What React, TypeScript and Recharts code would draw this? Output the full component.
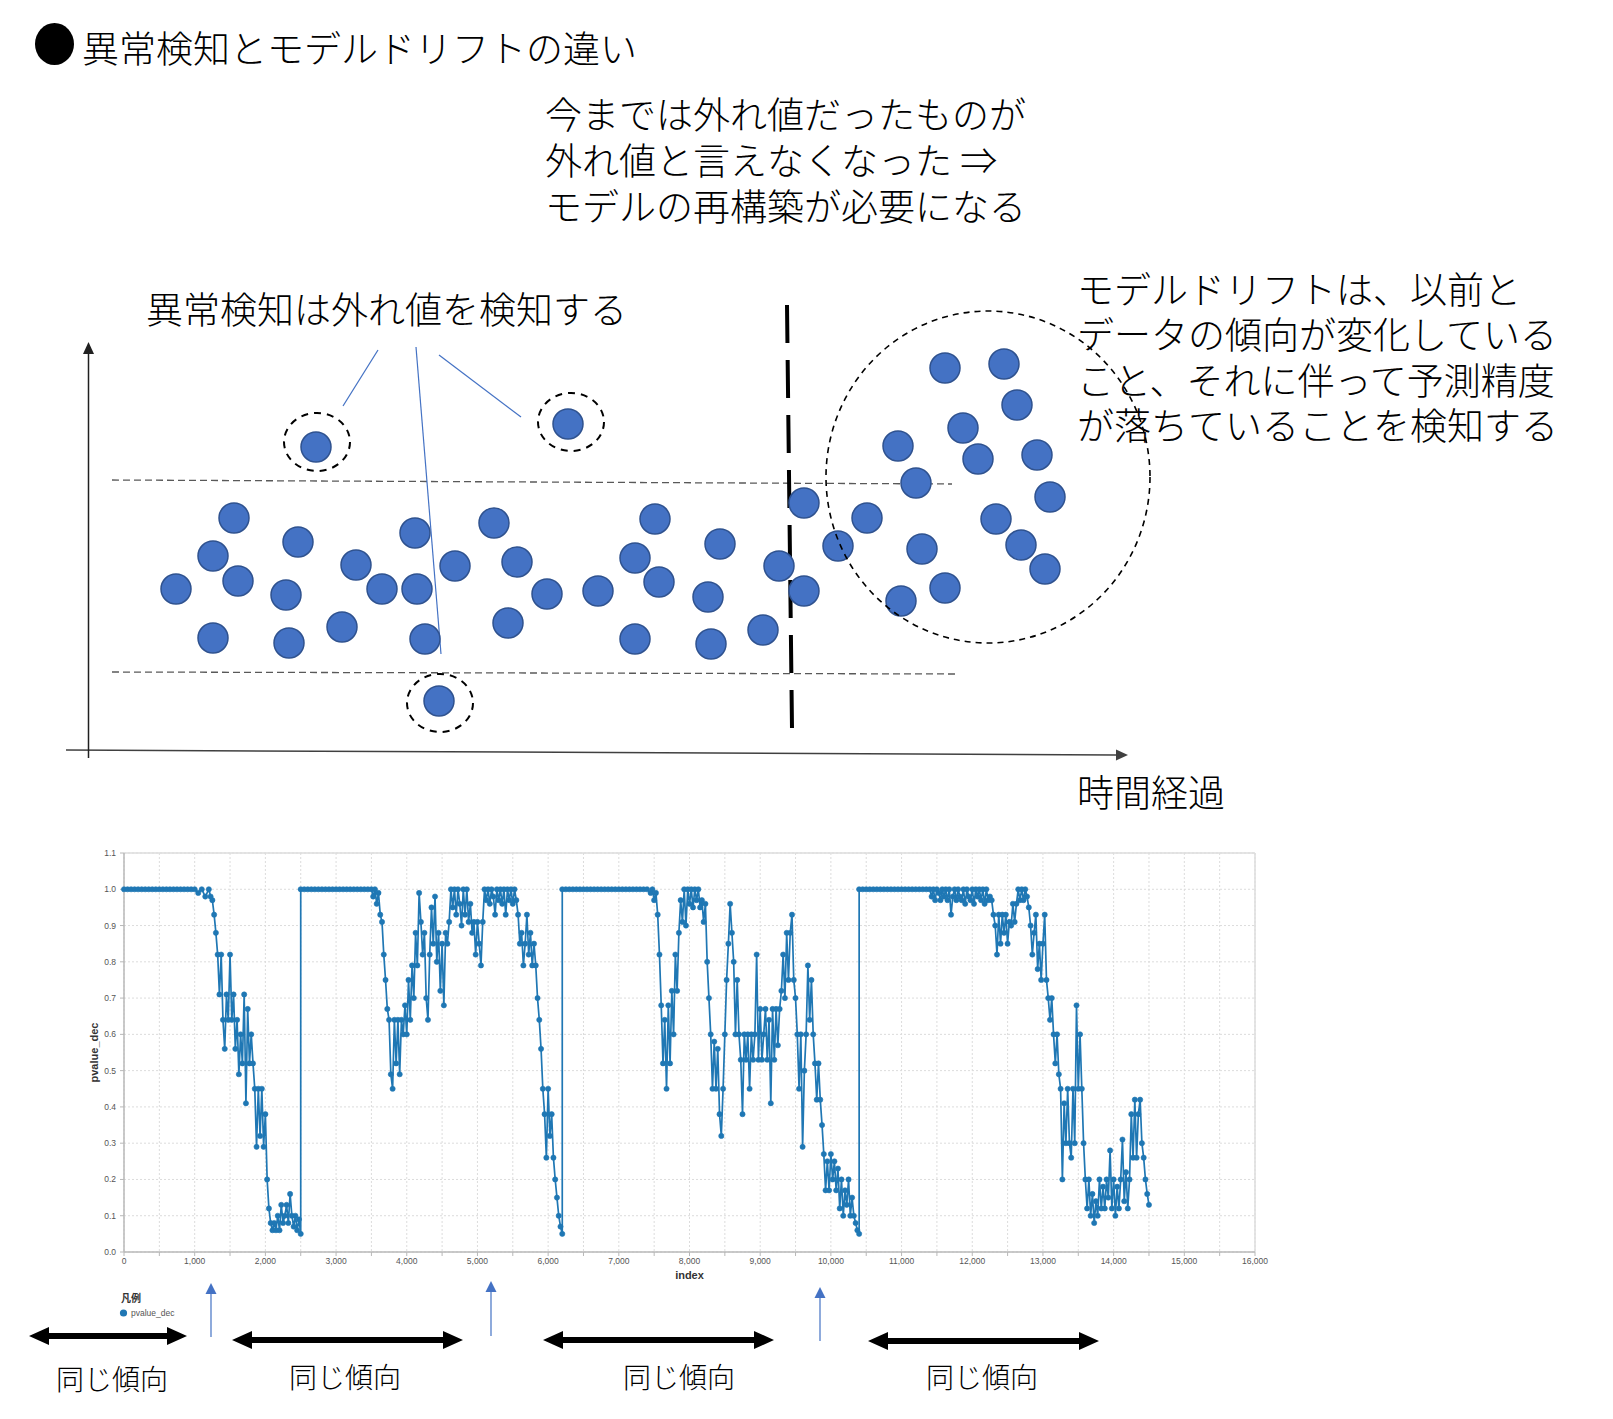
import React from 'react';
import {
  ScatterChart,
  Scatter,
  LineChart,
  Line,
  XAxis,
  YAxis,
  CartesianGrid,
  ReferenceLine,
} from 'recharts';

const JP = "'Noto Sans CJK JP', 'Noto Sans', sans-serif";
const LAT = "'Liberation Sans', Arial, sans-serif";
const BLUE = '#4472C4';

// ---------- concept diagram (units: 1 = 10px, origin at the axes corner) ----------
const steadyDots = [
  { x: 8.8, y: 16.6 }, { x: 12.5, y: 19.9 }, { x: 14.6, y: 23.7 }, { x: 15.0, y: 17.4 },
  { x: 12.5, y: 11.7 }, { x: 19.8, y: 16.0 }, { x: 21.0, y: 21.3 }, { x: 20.1, y: 11.2 },
  { x: 25.4, y: 12.8 }, { x: 26.8, y: 19.0 }, { x: 29.4, y: 16.6 }, { x: 32.7, y: 22.2 },
  { x: 32.9, y: 16.6 }, { x: 33.7, y: 11.6 }, { x: 36.7, y: 18.9 }, { x: 40.6, y: 23.2 },
  { x: 42.9, y: 19.3 }, { x: 42.0, y: 13.2 }, { x: 45.9, y: 16.1 }, { x: 51.0, y: 16.4 },
  { x: 54.7, y: 19.7 }, { x: 56.7, y: 23.6 }, { x: 57.1, y: 17.3 }, { x: 54.7, y: 11.6 },
  { x: 62.0, y: 15.8 }, { x: 63.2, y: 21.1 }, { x: 62.3, y: 11.1 }, { x: 67.5, y: 12.5 },
  { x: 69.1, y: 18.9 }, { x: 71.6, y: 25.2 }, { x: 71.6, y: 16.4 }, { x: 75.0, y: 20.9 },
];
const driftDots = [
  { x: 77.9, y: 23.7 }, { x: 81.3, y: 15.4 }, { x: 82.8, y: 27.2 }, { x: 83.4, y: 20.6 },
  { x: 85.7, y: 16.7 }, { x: 81.0, y: 30.9 }, { x: 85.7, y: 38.7 }, { x: 91.6, y: 39.1 },
  { x: 92.9, y: 35.0 }, { x: 87.5, y: 32.7 }, { x: 89.0, y: 29.6 }, { x: 94.9, y: 30.0 },
  { x: 96.2, y: 25.8 }, { x: 90.8, y: 23.6 }, { x: 93.3, y: 21.0 }, { x: 95.7, y: 18.6 },
];
const outlierDots = [{ x: 22.8, y: 30.8 }, { x: 48.0, y: 33.1 }, { x: 35.1, y: 5.4 }];
const outlierRings = [{ x: 22.9, y: 31.3 }, { x: 48.3, y: 33.3 }, { x: 35.2, y: 5.2 }];
const driftRing = [{ x: 90.0, y: 27.8 }];

const timeAxis = [{ x: -2.2, y: 0.5 }, { x: 104.0, y: 0.0 }];
const valueAxis = [{ x: 0.05, y: -0.3 }, { x: 0.05, y: 41.3 }];
const upperBand = [{ x: 2.4, y: 27.5 }, { x: 86.4, y: 27.1 }];
const lowerBand = [{ x: 2.4, y: 8.3 }, { x: 86.7, y: 8.1 }];
const driftBorder = [{ x: 69.9, y: 45.0 }, { x: 70.4, y: 2.7 }];
const pointers = [
  [{ x: 29.0, y: 40.5 }, { x: 25.5, y: 34.9 }],
  [{ x: 32.8, y: 40.8 }, { x: 35.3, y: 10.1 }],
  [{ x: 35.1, y: 40.0 }, { x: 43.3, y: 33.8 }],
];

// ---------- pvalue_dec series ----------
// plateaus sampled every 50 index steps, the moving parts every 25
const plateau1 = [
  1, 1, 1, 1, 1, 1, 1, 1, 1, 1, 1, 1, 1, 1, 1, 1, 1, 1, 1, 1,
  1, 0.99, 1, 0.98,
];
const drift1 = [
  1.0, 0.98, 0.97, 0.93, 0.88, 0.82, 0.71, 0.82, 0.64, 0.56, 0.71, 0.64, 0.82, 0.64, 0.71, 0.56, 0.64, 0.49, 0.6, 0.52,
  0.71, 0.41, 0.67, 0.52, 0.6, 0.52, 0.45, 0.29, 0.45, 0.32, 0.45, 0.29, 0.38, 0.2, 0.12, 0.08, 0.06, 0.08, 0.06, 0.1,
  0.06, 0.13, 0.08, 0.1, 0.13, 0.08, 0.16, 0.1, 0.07, 0.1, 0.06, 0.09, 0.05,
];
const plateau2 = [1, 1, 1, 1, 1, 1, 1, 1, 1, 1, 1, 1, 1, 1, 1, 1, 1, 1, 1, 1];
const drift2 = [
  1.0, 0.98, 1.0, 0.96, 0.99, 0.93, 0.91, 0.82, 0.75, 0.67, 0.64, 0.49, 0.45, 0.64, 0.52, 0.64, 0.49, 0.64, 0.6, 0.68,
  0.6, 0.75, 0.64, 0.79, 0.7, 0.88, 0.79, 0.99, 0.91, 0.82, 0.88, 0.7, 0.64, 0.82, 0.95, 0.85, 0.98, 0.8, 0.88, 0.72,
  0.85, 0.68, 0.88, 0.85, 0.91, 1.0, 0.95, 1.0, 0.93, 1.0, 0.96, 0.9, 1.0, 0.93, 1.0, 0.91, 0.96, 0.88, 0.91, 0.82,
  0.91, 0.85, 0.79, 0.91, 1.0, 0.97, 1.0, 0.96, 1.0, 0.98, 0.93, 1.0, 0.97, 1.0, 0.96, 1.0, 0.93, 1.0, 0.97, 1.0,
  0.96, 1.0, 0.97, 0.93, 0.85, 0.88, 0.79, 0.85, 0.93, 0.82, 0.88, 0.79, 0.85, 0.79, 0.7, 0.64, 0.56, 0.45, 0.38, 0.26,
  0.45, 0.32, 0.38, 0.26, 0.2, 0.15, 0.1, 0.07, 0.05,
];
const plateau3 = [
  1, 1, 1, 1, 1, 1, 1, 1, 1, 1, 1, 1, 1, 1, 1, 1, 1, 1, 1, 1,
  1, 1, 1, 1, 1,
];
const drift3 = [
  0.99, 1.0, 0.97, 0.99, 0.93, 0.82, 0.68, 0.52, 0.64, 0.45, 0.68, 0.52, 0.72, 0.6, 0.82, 0.72, 0.88, 0.97, 0.91, 1.0,
  0.9, 1.0, 0.96, 1.0, 0.95, 1.0, 0.97, 1.0, 0.95, 0.97, 0.91, 0.96, 0.8, 0.7, 0.6, 0.45, 0.58, 0.45, 0.56, 0.38,
  0.32, 0.45, 0.6, 0.75, 0.85, 0.96, 0.88, 0.8, 0.6, 0.75, 0.6, 0.53, 0.38, 0.6, 0.53, 0.6, 0.45, 0.6, 0.53, 0.6,
  0.82, 0.53, 0.67, 0.53, 0.6, 0.67, 0.53, 0.64, 0.41, 0.67, 0.53, 0.67, 0.57, 0.67, 0.72, 0.82, 0.7, 0.88, 0.75, 0.88,
  0.93, 0.75, 0.7, 0.6, 0.45, 0.6, 0.29, 0.5, 0.6, 0.79, 0.64, 0.75, 0.6, 0.52, 0.42, 0.52, 0.42, 0.35, 0.27, 0.17,
  0.25, 0.17, 0.27, 0.2, 0.25, 0.17, 0.23, 0.12, 0.2, 0.1, 0.17, 0.13, 0.2, 0.1, 0.15, 0.1, 0.08, 0.06, 0.05,
];
const plateau4 = [1, 1, 1, 1, 1, 1, 1, 1, 1, 1, 1, 1, 1, 1, 1, 1, 1, 1, 1, 1];
const drift4 = [
  1.0, 0.98, 1.0, 0.97, 1.0, 0.99, 0.97, 1.0, 0.98, 1.0, 0.97, 1.0, 0.93, 0.98, 1.0, 0.97, 1.0, 0.98, 0.97, 1.0,
  0.96, 1.0, 0.98, 0.97, 1.0, 0.96, 1.0, 0.98, 1.0, 0.97, 1.0, 0.96, 1.0, 0.97, 0.98, 0.97, 0.93, 0.9, 0.82, 0.93,
  0.85, 0.93, 0.88, 0.93, 0.85, 0.91, 0.9, 0.96, 0.91, 0.96, 1.0, 0.97, 1.0, 0.97, 1.0, 0.98, 0.95, 0.9, 0.82, 0.88,
  0.93, 0.78, 0.85, 0.75, 0.85, 0.93, 0.75, 0.7, 0.64, 0.7, 0.6, 0.52, 0.6, 0.49, 0.45, 0.2, 0.41, 0.3, 0.45, 0.3,
  0.26, 0.45, 0.3, 0.68, 0.45, 0.6, 0.45, 0.3, 0.2, 0.12, 0.2, 0.1, 0.16, 0.08, 0.14, 0.1, 0.2, 0.12, 0.18, 0.12,
  0.2, 0.15, 0.28, 0.12, 0.2, 0.1, 0.18, 0.12, 0.2, 0.31, 0.14, 0.22, 0.12, 0.2, 0.38, 0.26, 0.42, 0.26, 0.38, 0.42,
  0.3, 0.26, 0.2, 0.16, 0.13,
];
const segments = [
  { start: 0, step: 50, values: plateau1 },
  { start: 1200, step: 25, values: drift1 },
  { start: 2500, step: 50, values: plateau2 },
  { start: 3500, step: 25, values: drift2 },
  { start: 6200, step: 50, values: plateau3 },
  { start: 7450, step: 25, values: drift3 },
  { start: 10400, step: 50, values: plateau4 },
  { start: 11400, step: 25, values: drift4 },
];
const indexTicks = [
  0, 500, 1000, 1500, 2000, 2500, 3000, 3500, 4000, 4500, 5000, 5500, 6000, 6500, 7000, 7500, 8000,
  8500, 9000, 9500, 10000, 10500, 11000, 11500, 12000, 12500, 13000, 13500, 14000, 14500, 15000, 15500, 16000,
];
const pvalueTicks = [0, 0.1, 0.2, 0.3, 0.4, 0.5, 0.6, 0.7, 0.8, 0.9, 1.0, 1.1];

const pvalueData = segments.flatMap((s) =>
  s.values.map((v, i) => ({ index: s.start + i * s.step, pvalue_dec: v }))
);

// ---------- page decorations (pixels) ----------
const spanArrows = [
  { x1: 29, x2: 187, y: 1336 },
  { x1: 232, x2: 463, y: 1340 },
  { x1: 543, x2: 774, y: 1340 },
  { x1: 868, x2: 1099, y: 1341 },
];
const driftMarks = [
  { x: 211, top: 1283, bottom: 1337 },
  { x: 491, top: 1281, bottom: 1336 },
  { x: 820, top: 1287, bottom: 1341 },
];
const spanLabels = [
  { left: 56, top: 1364 },
  { left: 289, top: 1362 },
  { left: 623, top: 1362 },
  { left: 926, top: 1362 },
];

const ArrowLine = (props: any) => {
  const { x1, y1, x2, y2, stroke, strokeWidth } = props;
  const a = Math.atan2(y2 - y1, x2 - x1);
  const L = 12;
  const W = 5.5;
  const bx = x2 - L * Math.cos(a);
  const by = y2 - L * Math.sin(a);
  const px = -Math.sin(a) * W;
  const py = Math.cos(a) * W;
  return (
    <g>
      <line x1={x1} y1={y1} x2={bx} y2={by} stroke={stroke} strokeWidth={strokeWidth} />
      <polygon points={`${x2},${y2} ${bx + px},${by + py} ${bx - px},${by - py}`} fill={stroke} />
    </g>
  );
};

const BlueDot = (p: any) => (
  <circle cx={p.cx} cy={p.cy} r={15} fill={BLUE} stroke="#2F528F" strokeWidth={1.5} />
);
const SmallRing = (p: any) => (
  <ellipse cx={p.cx} cy={p.cy} rx={33} ry={29} fill="none" stroke="#000" strokeWidth={2} strokeDasharray="7 6" />
);
const BigRing = (p: any) => (
  <ellipse cx={p.cx} cy={p.cy} rx={162} ry={166} fill="none" stroke="#000" strokeWidth={1.6} strokeDasharray="6 5" />
);

function Txt({ left, top, size, lh, children }: any) {
  return (
    <div
      style={{
        position: 'absolute',
        left,
        top,
        fontSize: size,
        lineHeight: `${lh}px`,
        whiteSpace: 'pre',
        color: '#000',
        fontFamily: JP,
        fontWeight: 300,
      }}
    >
      {children}
    </div>
  );
}

function DriftDiagram() {
  return (
    <div style={{ position: 'absolute', left: 0, top: 0 }}>
      <ScatterChart width={1613} height={800} margin={{ top: 295, right: 443, bottom: 40, left: 60 }}>
        <XAxis type="number" dataKey="x" domain={[-2.8, 108.2]} allowDataOverflow hide />
        <YAxis type="number" dataKey="y" domain={[-0.5, 46]} allowDataOverflow hide />
        <Scatter data={steadyDots} shape={BlueDot} isAnimationActive={false} />
        <Scatter data={driftDots} shape={BlueDot} isAnimationActive={false} />
        <Scatter data={outlierDots} shape={BlueDot} isAnimationActive={false} />
        <ReferenceLine segment={upperBand} stroke="#595959" strokeWidth={1.3} strokeDasharray="7 4" />
        <ReferenceLine segment={lowerBand} stroke="#595959" strokeWidth={1.3} strokeDasharray="7 4" />
        <ReferenceLine segment={driftBorder} stroke="#000" strokeWidth={4} strokeDasharray="38 17" />
        {pointers.map((seg, i) => (
          <ReferenceLine key={i} segment={seg} stroke={BLUE} strokeWidth={1.2} />
        ))}
        <ReferenceLine segment={timeAxis} stroke="#404040" strokeWidth={1.5} shape={ArrowLine} />
        <ReferenceLine segment={valueAxis} stroke="#202020" strokeWidth={1.5} shape={ArrowLine} />
        <Scatter data={outlierRings} shape={SmallRing} isAnimationActive={false} />
        <Scatter data={driftRing} shape={BigRing} isAnimationActive={false} />
      </ScatterChart>
    </div>
  );
}

const YLabel = (props: any) => {
  const vb = props.viewBox || {};
  const cx = vb.x;
  const cy = vb.y + vb.height / 2;
  return (
    <text
      x={cx}
      y={cy}
      transform={`rotate(-90 ${cx} ${cy})`}
      textAnchor="middle"
      dominantBaseline="central"
      fontSize={11}
      fontWeight="bold"
      fill="#333"
      fontFamily={LAT}
    >
      pvalue_dec
    </text>
  );
};

const XLabel = (props: any) => {
  const vb = props.viewBox || {};
  return (
    <text
      x={vb.x + vb.width / 2}
      y={vb.y + vb.height + 3}
      textAnchor="middle"
      dominantBaseline="central"
      fontSize={11}
      fontWeight="bold"
      fill="#333"
      fontFamily={LAT}
    >
      index
    </text>
  );
};

function PvalueChart() {
  return (
    <div style={{ position: 'absolute', left: 0, top: 820 }}>
      <LineChart width={1300} height={480} data={pvalueData} margin={{ top: 33, right: 45, bottom: 28, left: 94 }}>
        <CartesianGrid stroke="#dcdcdc" strokeDasharray="2 2" />
        <ReferenceLine y={1.1} stroke="#dcdcdc" strokeWidth={1.5} />
        <ReferenceLine x={16000} stroke="#dcdcdc" strokeWidth={1.5} />
        <XAxis
          type="number"
          dataKey="index"
          domain={[0, 16000]}
          ticks={indexTicks}
          interval={0}
          height={20}
          tickSize={4}
          tickMargin={2}
          tickFormatter={(v: number) => (v % 1000 === 0 ? v.toLocaleString('en-US') : '')}
          tick={{ fontSize: 8.5, fill: '#555', fontFamily: LAT }}
          axisLine={{ stroke: '#b8b8b8', strokeWidth: 1.5 }}
          tickLine={{ stroke: '#b8b8b8' }}
          label={XLabel}
        />
        <YAxis
          type="number"
          domain={[0, 1.1]}
          ticks={pvalueTicks}
          interval={0}
          width={30}
          tickSize={4}
          tickMargin={4}
          tickFormatter={(v: number) => v.toFixed(1)}
          tick={{ fontSize: 8.5, fill: '#555', fontFamily: LAT }}
          axisLine={{ stroke: '#b8b8b8', strokeWidth: 1.5 }}
          tickLine={{ stroke: '#b8b8b8' }}
          label={YLabel}
        />
        <Line
          type="linear"
          dataKey="pvalue_dec"
          stroke="#1f77b4"
          strokeWidth={1.7}
          dot={{ r: 2.6, fill: '#1f77b4', stroke: '#1f77b4', strokeWidth: 0.6 }}
          activeDot={false}
          isAnimationActive={false}
        />
      </LineChart>
    </div>
  );
}

function Decorations() {
  return (
    <svg width={1613} height={1419} style={{ position: 'absolute', left: 0, top: 0, pointerEvents: 'none' }}>
      {spanArrows.map((a, i) => {
        const h = 20;
        const hw = 9;
        const t = 3;
        const pts = [
          [a.x1, a.y], [a.x1 + h, a.y - hw], [a.x1 + h, a.y - t], [a.x2 - h, a.y - t], [a.x2 - h, a.y - hw],
          [a.x2, a.y], [a.x2 - h, a.y + hw], [a.x2 - h, a.y + t], [a.x1 + h, a.y + t], [a.x1 + h, a.y + hw],
        ];
        return <polygon key={i} points={pts.map((p) => p.join(',')).join(' ')} fill="#000" />;
      })}
      {driftMarks.map((m, i) => (
        <g key={i}>
          <line x1={m.x} y1={m.bottom} x2={m.x} y2={m.top + 10} stroke={BLUE} strokeWidth={1.2} />
          <polygon points={`${m.x},${m.top} ${m.x - 5.5},${m.top + 11} ${m.x + 5.5},${m.top + 11}`} fill={BLUE} />
        </g>
      ))}
      <circle cx={123.5} cy={1313} r={3.6} fill="#1f77b4" />
    </svg>
  );
}

export default function App() {
  return (
    <div
      style={{
        position: 'absolute',
        left: 0,
        top: 0,
        width: 1613,
        height: 1419,
        background: '#fff',
        overflow: 'hidden',
        fontFamily: JP,
      }}
    >
      <div
        style={{ position: 'absolute', left: 34.5, top: 23, width: 39, height: 42, borderRadius: '50%', background: '#000' }}
      />
      <Txt left={82} top={28.5} size={37} lh={37}>異常検知とモデルドリフトの違い</Txt>
      <Txt left={545} top={90} size={37} lh={46}>
        {'今までは外れ値だったものが\n外れ値と言えなくなった ⇒\nモデルの再構築が必要になる'}
      </Txt>
      <Txt left={146} top={285} size={37} lh={46}>異常検知は外れ値を検知する</Txt>
      <Txt left={1077} top={266} size={37} lh={45.3}>
        {'モデルドリフトは、以前と\nデータの傾向が変化している\nこと、それに伴って予測精度\nが落ちていることを検知する'}
      </Txt>
      <Txt left={1077} top={768} size={37} lh={46}>時間経過</Txt>
      {spanLabels.map((s, i) => (
        <Txt key={i} left={s.left} top={s.top} size={28} lh={28}>同じ傾向</Txt>
      ))}
      <div
        style={{ position: 'absolute', left: 121, top: 1293, fontSize: 10, lineHeight: '10px', fontWeight: 'bold', color: '#333', fontFamily: JP }}
      >
        凡例
      </div>
      <div
        style={{ position: 'absolute', left: 131, top: 1308, fontSize: 8.5, lineHeight: '10px', color: '#555', fontFamily: LAT }}
      >
        pvalue_dec
      </div>
      <DriftDiagram />
      <PvalueChart />
      <Decorations />
    </div>
  );
}
